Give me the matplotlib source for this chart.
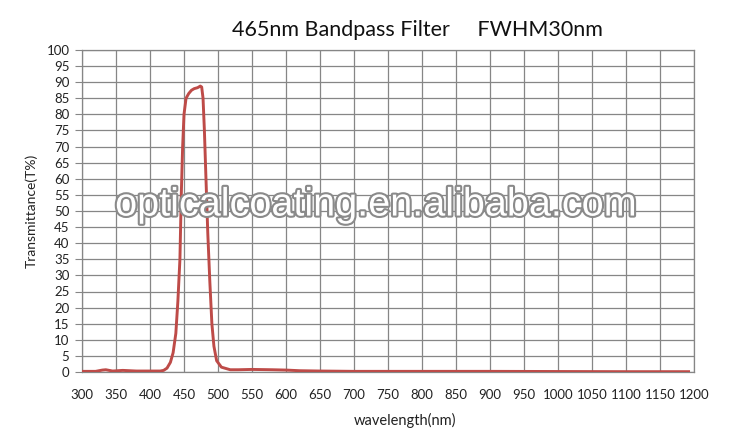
import matplotlib
matplotlib.use("Agg")
import matplotlib.pyplot as plt
import matplotlib.patheffects as pe

wavelength = [300, 320, 330, 335, 345, 360, 380, 400, 415, 420, 425, 430,
              434, 438, 441, 444, 446, 448, 450, 453, 457, 461, 465, 470,
              474, 476, 478, 480, 482, 485, 488, 491, 494, 498, 505, 518,
              530, 550, 580, 600, 620, 650, 700, 800, 900, 1000, 1100, 1192]
transmittance = [0.2, 0.2, 0.6, 0.7, 0.3, 0.5, 0.3, 0.3, 0.3, 0.5, 1.2, 3,
                 6, 12, 22, 35, 55, 70, 80, 85, 86.5, 87.5, 88, 88.3,
                 88.8, 88.5, 85, 75, 62, 43, 28, 15, 8, 3.5, 1.5, 0.7,
                 0.7, 0.8, 0.7, 0.6, 0.4, 0.3, 0.2, 0.2, 0.2, 0.15, 0.1, 0.1]

x_ticks = list(range(300, 1201, 50))
y_ticks = list(range(0, 101, 5))

title = '465nm Bandpass Filter     FWHM30nm'
watermark = 'opticalcoating.en.alibaba.com'

grid_color = '#868686'
line_color = '#BE4B48'

plt.rcParams['font.family'] = ['Lato', 'DejaVu Sans']

fig = plt.figure(figsize=(7.5, 4.3), dpi=100)
ax = fig.add_axes([82/750, 1 - 372/430, (694 - 82)/750, (372 - 50)/430])

ax.plot(wavelength, transmittance, color=line_color, linewidth=2.1,
        solid_joinstyle='round', zorder=3)

ax.set_xlim(300, 1200)
ax.set_ylim(0, 100)
ax.set_xticks(x_ticks)
ax.set_yticks(y_ticks)
ax.grid(True, color=grid_color, linewidth=0.9)
ax.set_axisbelow(True)
for s in ax.spines.values():
    s.set_color(grid_color)
    s.set_linewidth(0.9)

ax.tick_params(axis='y', direction='out', length=5, color=grid_color,
               labelsize=9.5, pad=4, labelcolor='#222222')
ax.tick_params(axis='x', length=0, labelsize=9.5, pad=12, labelcolor='#222222')

ax.set_xlabel('wavelength(nm)', fontsize=10.5, color='#222222')
ax.xaxis.set_label_coords(0.528, -0.128)
ax.set_ylabel('Transmittance(T%)', fontsize=10, labelpad=6, color='#222222')
fig.text(0.557, 0.93, title, ha='center', va='center', fontsize=15.5,
         color='#111111')

# site watermark across the plot
ax.text(0.48, 0.52, watermark, transform=ax.transAxes, ha='center',
        va='center', fontsize=28.5, family='Liberation Sans', color='white',
        zorder=5,
        path_effects=[pe.withStroke(linewidth=3, foreground='#8a8a8a')])

fig.savefig('out.png', dpi=100)
